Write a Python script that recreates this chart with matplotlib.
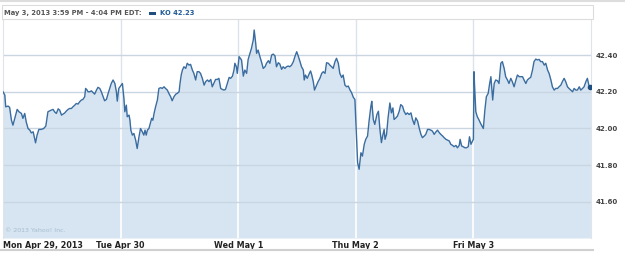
import matplotlib
matplotlib.use('Agg')
import matplotlib.pyplot as plt
from matplotlib.patches import Rectangle
from matplotlib.lines import Line2D

DAY_LEN = 390  # minut sesji (9:30 - 16:00)

day_labels = ['Mon Apr 29, 2013', 'Tue Apr 30', 'Wed May 1', 'Thu May 2', 'Fri May 3']
y_ticks = [41.60, 41.80, 42.00, 42.20, 42.40]
y_labels = ['41.60', '41.80', '42.00', '42.20', '42.40']
header_text = 'May 3, 2013 3:59 PM - 4:04 PM EDT:'
legend_text = 'KO 42.23'

# minuty od otwarcia i ceny dla kazdego dnia
mon_t = [0, 6, 9, 17, 22, 28, 33, 39, 47, 53, 61, 66, 72, 77, 83, 89, 94, 100, 105, 108,
         113, 119, 127, 135, 142, 149, 155, 160, 166, 171, 177, 183, 188, 194, 199, 205, 210, 216, 221, 227,
         232, 238, 243, 249, 254, 260, 265, 271, 274, 279, 282, 288, 293, 299, 304, 310, 315, 321, 326, 332,
         337, 343, 348, 354, 359, 365, 371, 376, 379, 384]
mon_p = [42.200, 42.182, 42.118, 42.122, 42.115, 42.045, 42.018, 42.055, 42.104, 42.091,
         42.082, 42.055, 42.082, 42.036, 42.000, 41.991, 41.976, 41.982, 41.945, 41.922,
         41.964, 41.995, 41.995, 42.000, 42.013, 42.091, 42.096, 42.100, 42.104, 42.091,
         42.082, 42.107, 42.100, 42.073, 42.078, 42.085, 42.095, 42.104, 42.109, 42.109,
         42.118, 42.127, 42.136, 42.133, 42.145, 42.155, 42.158, 42.173, 42.218, 42.209,
         42.200, 42.200, 42.205, 42.195, 42.187, 42.209, 42.224, 42.218, 42.200, 42.173,
         42.151, 42.158, 42.187, 42.218, 42.245, 42.264, 42.245, 42.200, 42.149, 42.218]

tue_t = [6, 11, 14, 19, 22, 28, 31, 34, 39, 44, 50, 55, 61, 66, 72, 77, 81, 85, 89, 94,
         100, 103, 107, 111, 116, 122, 127, 133, 138, 144, 149, 155, 160, 166, 171, 177, 183, 188, 194, 197,
         201, 205, 210, 216, 221, 227, 232, 238, 243, 249, 254, 260, 265, 271, 277, 282, 288, 293, 299, 304,
         310, 315, 321, 326, 332, 337, 343, 348, 354, 360, 365, 371, 376, 379, 384, 387]
tue_p = [42.245, 42.164, 42.091, 42.127, 42.064, 42.073, 42.045, 41.991, 41.964, 41.973,
         41.936, 41.891, 41.955, 42.000, 41.982, 41.964, 41.991, 41.964, 41.991, 42.000,
         42.036, 42.055, 42.045, 42.082, 42.118, 42.155, 42.218, 42.222, 42.218, 42.227,
         42.218, 42.209, 42.191, 42.173, 42.151, 42.173, 42.187, 42.191, 42.200, 42.245,
         42.291, 42.318, 42.336, 42.327, 42.355, 42.345, 42.349, 42.318, 42.300, 42.264,
         42.309, 42.309, 42.300, 42.273, 42.236, 42.255, 42.264, 42.255, 42.267, 42.227,
         42.249, 42.267, 42.267, 42.273, 42.218, 42.213, 42.209, 42.213, 42.245, 42.278,
         42.273, 42.285, 42.318, 42.355, 42.336, 42.300]

wed_t = [3, 11, 17, 22, 28, 33, 39, 44, 50, 53, 58, 61, 66, 72, 77, 83, 89, 94, 100, 105,
         111, 116, 122, 127, 133, 138, 144, 149, 155, 160, 166, 171, 177, 183, 188, 194, 199, 205, 210, 216,
         219, 223, 229, 236, 240, 244, 249, 253, 260, 265, 271, 277, 282, 288, 293, 299, 304, 310, 315, 321,
         326, 332, 337, 343, 348, 354, 360, 365, 371, 376, 382, 387]
wed_p = [42.391, 42.373, 42.285, 42.318, 42.300, 42.376, 42.409, 42.436, 42.482, 42.536,
         42.464, 42.409, 42.427, 42.391, 42.364, 42.327, 42.336, 42.355, 42.369, 42.355,
         42.400, 42.405, 42.395, 42.336, 42.358, 42.351, 42.322, 42.336, 42.327, 42.336,
         42.340, 42.336, 42.345, 42.364, 42.391, 42.418, 42.395, 42.364, 42.336, 42.318,
         42.264, 42.291, 42.273, 42.300, 42.313, 42.291, 42.255, 42.209, 42.236, 42.255,
         42.273, 42.300, 42.309, 42.300, 42.358, 42.355, 42.345, 42.336, 42.327, 42.364,
         42.382, 42.355, 42.300, 42.278, 42.291, 42.236, 42.227, 42.231, 42.209, 42.195,
         42.169, 42.158]

thu_t = [6, 11, 17, 22, 28, 33, 39, 44, 50, 53, 58, 63, 70, 75, 80, 85, 89, 94, 97, 102,
         107, 113, 118, 123, 127, 133, 138, 144, 149, 155, 160, 166, 171, 177, 183, 188, 194, 199, 205, 210,
         216, 221, 227, 232, 238, 243, 249, 254, 260, 265, 271, 277, 282, 288, 293, 299, 304, 310, 315, 321,
         326, 332, 337, 343, 346, 351, 356, 362, 367, 373, 377, 382, 387, 390]
thu_p = [41.814, 41.778, 41.868, 41.850, 41.914, 41.941, 41.959, 42.040, 42.121, 42.148,
         42.049, 42.022, 42.076, 42.094, 41.995, 41.923, 41.959, 41.995, 41.941, 41.968,
         42.058, 42.139, 42.085, 42.112, 42.049, 42.058, 42.067, 42.094, 42.130, 42.121,
         42.094, 42.076, 42.085, 42.076, 42.085, 42.049, 42.022, 42.058, 42.040, 42.004,
         41.968, 41.950, 41.959, 41.968, 41.995, 41.995, 41.991, 41.986, 41.968, 41.980,
         41.991, 41.977, 41.968, 41.959, 41.950, 41.941, 41.937, 41.932, 41.914, 41.908,
         41.901, 41.908, 41.895, 41.908, 41.941, 41.905, 41.901, 41.895, 41.895, 41.901,
         41.955, 41.914, 41.932, 41.941]

fri_t = [2, 4, 8, 13, 19, 24, 30, 33, 38, 43, 49, 54, 58, 61, 64, 69, 74, 80, 85, 91,
         96, 102, 107, 113, 118, 124, 129, 135, 141, 146, 152, 157, 163, 168, 174, 179, 185, 190, 196, 201,
         207, 212, 218, 223, 229, 235, 240, 246, 251, 257, 262, 268, 273, 279, 284, 290, 295, 301, 306, 312,
         317, 323, 329, 334, 340, 345, 351, 356, 362, 367, 373, 378, 384, 388]
fri_p = [42.309, 42.227, 42.091, 42.064, 42.045, 42.027, 42.009, 42.000, 42.100, 42.173,
         42.191, 42.245, 42.282, 42.218, 42.155, 42.245, 42.264, 42.260, 42.245, 42.355,
         42.364, 42.327, 42.282, 42.264, 42.245, 42.273, 42.255, 42.227, 42.264, 42.291,
         42.282, 42.282, 42.282, 42.264, 42.245, 42.264, 42.273, 42.278, 42.318, 42.364,
         42.378, 42.373, 42.376, 42.364, 42.364, 42.345, 42.355, 42.318, 42.300, 42.264,
         42.227, 42.209, 42.218, 42.218, 42.227, 42.236, 42.255, 42.273, 42.255, 42.227,
         42.218, 42.209, 42.200, 42.218, 42.209, 42.209, 42.227, 42.209, 42.218, 42.227,
         42.255, 42.273, 42.227, 42.225]

# sklejanie dni w jedna os czasu
days_t = [mon_t, tue_t, wed_t, thu_t, fri_t]
days_p = [mon_p, tue_p, wed_p, thu_p, fri_p]
x = []
y = []
for i, (t, p) in enumerate(zip(days_t, days_p)):
    x += [i * DAY_LEN + m for m in t]
    y += p

LINE_COLOR = '#3a6c9f'
FILL_COLOR = '#d6e5f1'
Y_MIN, Y_MAX = 41.404, 42.5905

W, H = 625, 256
fig = plt.figure(figsize=(W / 100, H / 100), dpi=100)
fig.patch.set_facecolor('white')

ax = fig.add_axes([3 / W, 1 - 238 / H, 588 / W, 218 / H])
ax.set_xlim(0, 5 * DAY_LEN)
ax.set_ylim(Y_MIN, Y_MAX)

fill = ax.fill_between(x, y, Y_MIN, color=FILL_COLOR, lw=0, zorder=1)
ax.plot(x, y, color=LINE_COLOR, lw=1.0, zorder=3)
ax.plot(x[-1], y[-1], 'o', color='#1f4e80', ms=3, zorder=4)

# siatka pionowa: szara nad wykresem, biala w wypelnieniu
for i in range(1, 5):
    ax.axvline(i * DAY_LEN, color='#dde3ea', lw=1, zorder=0)
    wl = ax.axvline(i * DAY_LEN, color='white', lw=1.2, zorder=2)
    wl.set_clip_path(fill.get_paths()[0], ax.transData)

# siatka pozioma
for v in y_ticks:
    ax.axhline(v, color='#c9d6e2', lw=1, zorder=2)

for side in ['left', 'right']:
    ax.spines[side].set_color('#dfe4ea')
ax.spines['top'].set_visible(False)
ax.spines['bottom'].set_visible(False)

ax.yaxis.tick_right()
ax.set_yticks(y_ticks)
ax.set_yticklabels(y_labels, fontsize=5, fontweight='bold', color='#444444')
ax.tick_params(axis='y', length=0, pad=3)

ax.set_xticks([i * DAY_LEN for i in range(5)])
ax.set_xticklabels(day_labels, fontsize=5.8, fontweight='bold', color='#222222')
ax.tick_params(axis='x', length=0, pad=2.5)
ax.get_xticklabels()[0].set_ha('left')

# naglowek
fig.patches.append(Rectangle((2 / W, 1 - 19 / H), 591 / W, 14 / H, transform=fig.transFigure,
                             facecolor='white', edgecolor='#dcdcdc', lw=0.8))
fig.text(4 / W, 1 - 13 / H, header_text, fontsize=4.9, fontweight='bold', color='#555555', va='center')
fig.patches.append(Rectangle((149 / W, 1 - 14.5 / H), 7 / W, 3 / H, transform=fig.transFigure,
                             facecolor='#1f4e80', edgecolor='none'))
fig.text(160 / W, 1 - 13 / H, legend_text, fontsize=4.9, fontweight='bold', color='#1f5a99', va='center')

fig.text(5 / W, 1 - 231 / H, '© 2013 Yahoo! Inc.', fontsize=4.5, color='#a8bccd', va='center')

# linie ramki strony
fig.lines.append(Line2D([0, 1], [1 - 1 / H, 1 - 1 / H], transform=fig.transFigure, color='#dddddd', lw=1.5))
fig.lines.append(Line2D([0, 593 / W], [1 - 249.5 / H, 1 - 249.5 / H], transform=fig.transFigure,
                        color='#d0d0d0', lw=1.5))

fig.savefig('out.png', dpi=100)
